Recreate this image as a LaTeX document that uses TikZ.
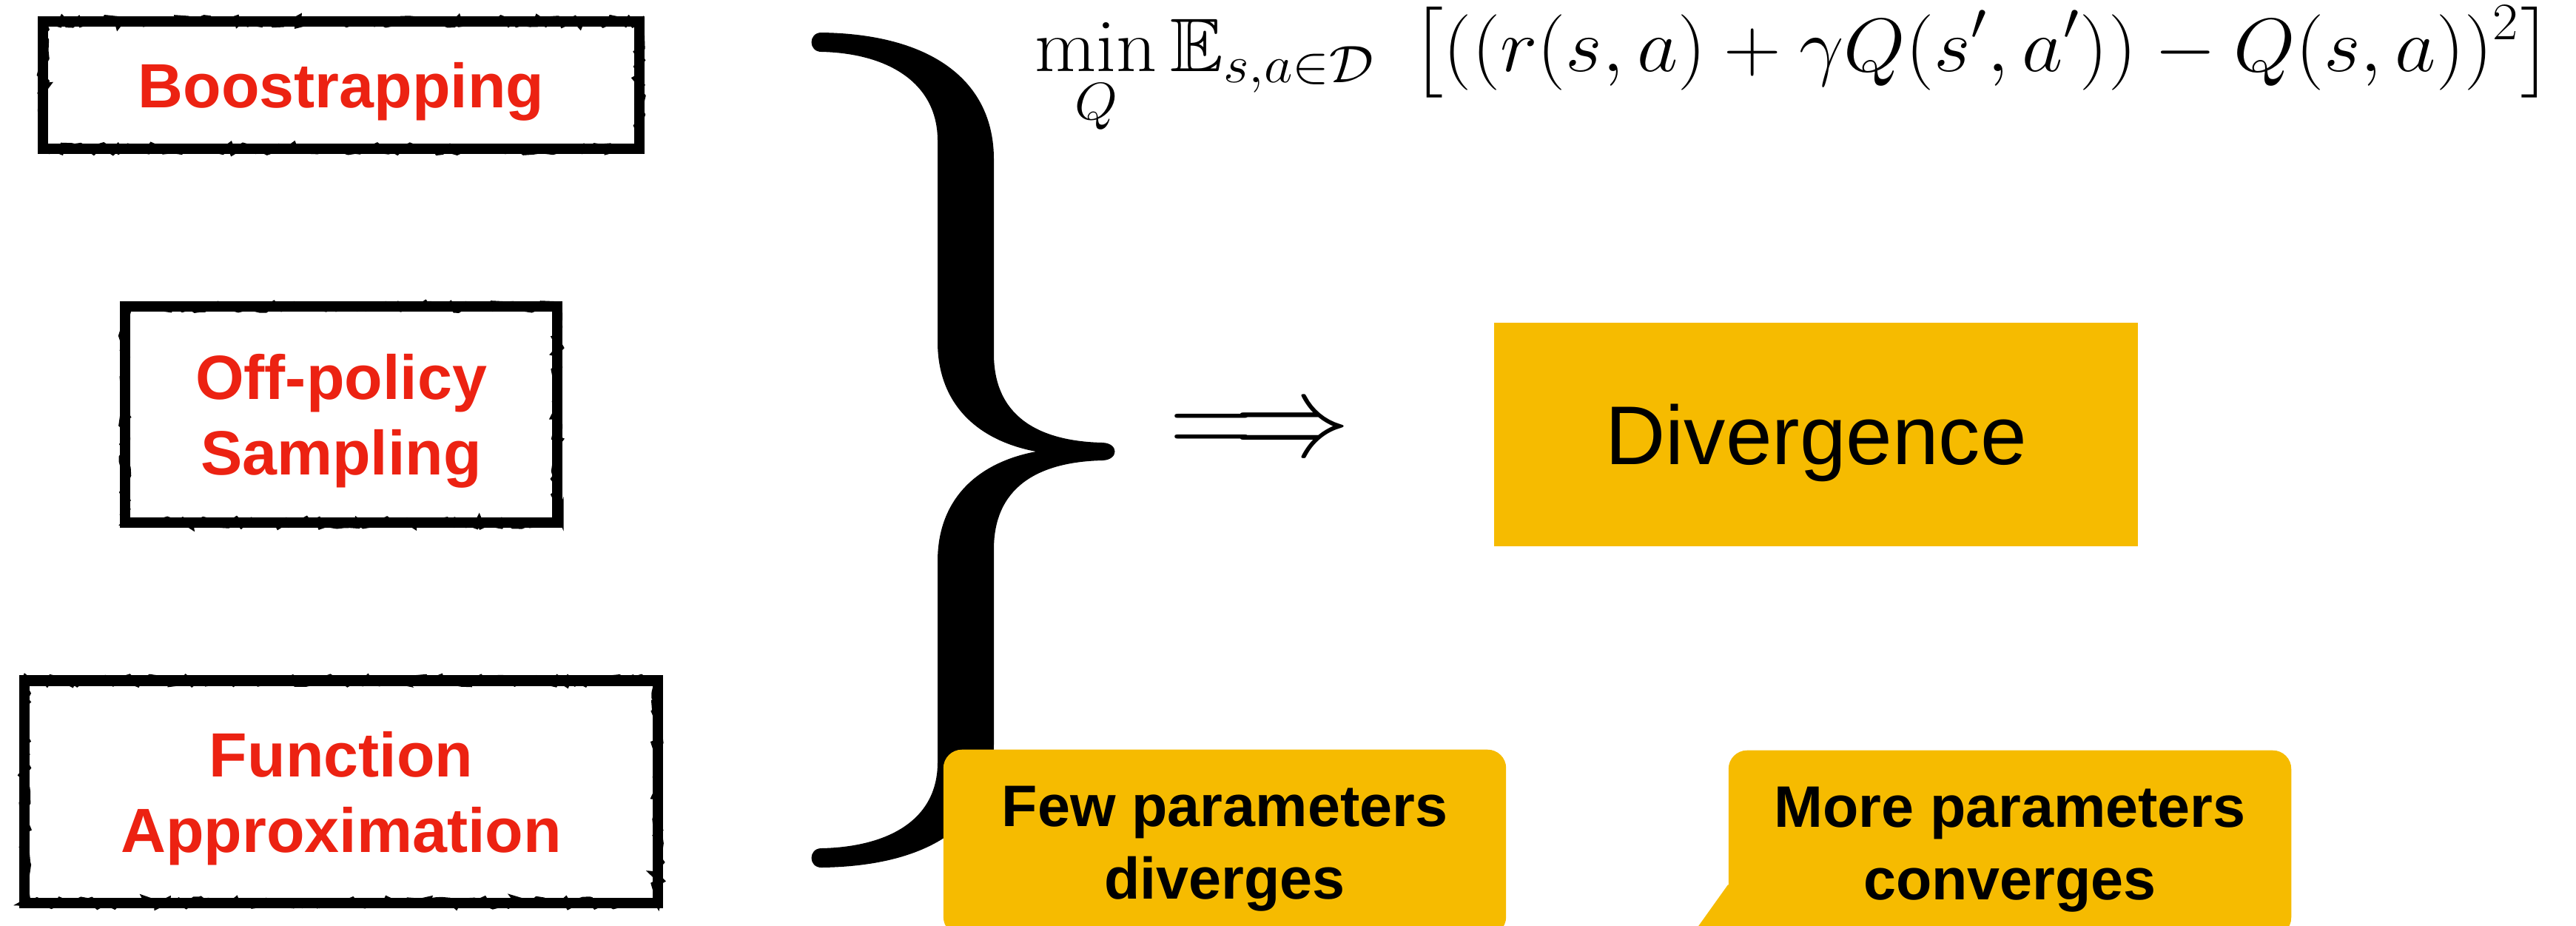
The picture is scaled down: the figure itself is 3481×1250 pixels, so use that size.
\documentclass[tikz,border=0pt]{standalone}
\usepackage{amsmath,amssymb,amsfonts}
\usepackage{graphicx}
\usepackage{fontspec}
\setsansfont{Liberation Sans}
\usepackage{xcolor}
\usepackage{tikz}
\usetikzlibrary{positioning, calc, decorations.pathmorphing}
\DeclareMathSizes{24.88}{24.88}{17.28}{12}
\definecolor{causered}{RGB}{236,34,18}
\definecolor{warngold}{RGB}{246,187,0}
\tikzstyle{cause} = [draw, rectangle, line width=4pt, outer sep=0pt, align=center, text depth=0pt, text=causered, font=\sffamily\bfseries\fontsize{24}{29}\selectfont, postaction={draw, line width=2.4pt, decorate, decoration={random steps, segment length=2pt, amplitude=1.3pt}}]
\tikzstyle{result} = [rectangle, fill=warngold, minimum width=8.7cm, minimum height=3.02cm, text depth=0pt, font=\sffamily\fontsize{32}{38}\selectfont]
\tikzstyle{note} = [rectangle, fill=warngold, rounded corners=0.25cm, anchor=north, minimum width=7.6cm, inner ysep=0.49cm, align=center, text depth=0pt, font=\sffamily\bfseries\fontsize{22.5}{28}\selectfont]

\begin{document}
\begin{tikzpicture}[x=0.01cm, y=-0.01cm, node distance=2.13cm]
    \pgfmathsetseed{42}
    \useasboundingbox (0,0) rectangle (3481,1250);
    \clip (0,0) rectangle (3481,1250);

    \node (boot) [cause, minimum width=8.05cm, minimum height=1.72cm] at (461,115) {Boostrapping};
    \node (offp) [cause, below=of boot, minimum width=5.84cm, minimum height=2.92cm] {Off-policy\\Sampling};
    \node (func) [cause, below=of offp, minimum width=8.55cm, minimum height=3.00cm] {Function\\Approximation};

    % the big brace
    \fill (1110,44) .. controls (1260,46) and (1343,110) .. (1343,215)
        -- (1343,478) .. controls (1343,560) and (1400,596) .. (1490,598)
        .. controls (1512,599) and (1512,621) .. (1490,622)
        .. controls (1400,624) and (1343,660) .. (1343,742)
        -- (1343,1005) .. controls (1343,1110) and (1260,1170) .. (1110,1172)
        .. controls (1092,1172) and (1092,1146) .. (1110,1146)
        .. controls (1200,1144) and (1267,1108) .. (1267,1030)
        -- (1267,758) .. controls (1267,675) and (1320,625) .. (1400,610)
        .. controls (1320,595) and (1267,545) .. (1267,462)
        -- (1267,190) .. controls (1267,112) and (1200,72) .. (1110,70)
        .. controls (1092,70) and (1092,44) .. (1110,44) -- cycle;

    \node (loss) [anchor=base west, inner sep=0pt, font=\fontsize{24.88}{30}\selectfont] at (1398,96) {\scalebox{1.23}[1.17]{$\displaystyle \min_{Q}\mathbb{E}_{s,a\in\mathcal{D}}\;\,\bigl[((r(s,a)+\gamma Q(s',a'))-Q(s,a))^{2}\bigr]$}};
    \node (impl) [inner sep=0pt, font=\fontsize{24.88}{30}\selectfont] at (1703,587) {\scalebox{1.8}{$\Longrightarrow$}};
    \node (div) [result, right=1.92cm of impl] {Divergence};

    \node (few) [note] at (1655,1012) {Few parameters\\diverges};
    \node (more) [note] at (2716,1013) {More parameters\\converges};
    \fill [warngold] ([yshift=-1.82cm]more.north west) -- ++(-75,105) -- ++(200,0) -- cycle;
\end{tikzpicture}
\end{document}
